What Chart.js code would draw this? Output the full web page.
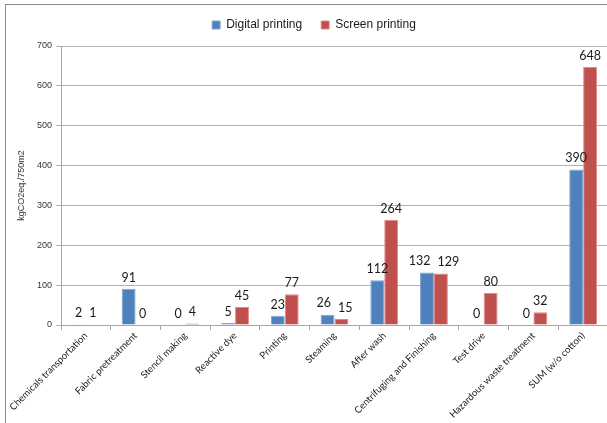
<!DOCTYPE html>
<html>
<head>
<meta charset="utf-8">
<script src="https://cdn.jsdelivr.net/npm/chart.js@4/dist/chart.umd.min.js"></script>
<style>
  html, body { margin: 0; padding: 0; background: #fff; overflow: hidden; width: 607px; height: 423px; }
  #frame { position: absolute; left: 5px; top: 4px; width: 700px; height: 500px; border-top: 1px solid #8c8c8c; border-left: 1px solid #8c8c8c; }
  #wrap { position: absolute; left: 0; top: 0; width: 602px; height: 418px; }
</style>
</head>
<body>
<div id="frame"><div id="wrap"><canvas id="c"></canvas></div></div>
<script>
const categories = ["Chemicals transportation", "Fabric pretreatment", "Stencil making", "Reactive dye", "Printing", "Steaming", "After wash", "Centrifuging and Finishing", "Test drive", "Hazardous waste treatment", "SUM (w/o cotton)"];
const digitalPrinting = [2, 91, 0, 5, 23, 26, 112, 132, 0, 0, 390];
const screenPrinting = [1, 0, 4, 45, 77, 15, 264, 129, 80, 32, 648];
const seriesNames = ["Digital printing", "Screen printing"];
const yTicks = [0, 100, 200, 300, 400, 500, 600, 700];
const yTitle = "kgCO2eq./750m2";

const valueLabels = {
  id: 'valueLabels',
  afterDatasetsDraw(chart) {
    const ctx = chart.ctx;
    ctx.save();
    ctx.font = '12.5px Lato, "Open Sans", sans-serif';
    ctx.fillStyle = '#1a1a1a';
    ctx.textAlign = 'center';
    ctx.textBaseline = 'bottom';
    const m0 = chart.getDatasetMeta(0), m1 = chart.getDatasetMeta(1);
    const d0 = chart.data.datasets[0].data, d1 = chart.data.datasets[1].data;
    m0.data.forEach((b0, j) => {
      const b1 = m1.data[j];
      const t0 = String(d0[j]), t1 = String(d1[j]);
      let x0 = b0.x, x1 = b1.x;
      const y0 = b0.y - 5, y1 = b1.y - 5;
      const w0 = ctx.measureText(t0).width, w1 = ctx.measureText(t1).width;
      if (Math.abs(y0 - y1) < 12) {
        const gap = (x1 - w1 / 2) - (x0 + w0 / 2);
        if (gap < 7) { const s = (7 - gap) / 2; x0 -= s; x1 += s; }
      }
      ctx.fillText(t0, x0, y0);
      ctx.fillText(t1, x1, y1);
    });
    ctx.restore();
  }
};
const legendShift = {
  id: 'legendShift',
  afterLayout(chart) {
    const l = chart.legend;
    if (l) { l.left += 7; l.right += 7; l.top -= 5; l.bottom -= 5; }
  }
};

new Chart(document.getElementById('c'), {
  type: 'bar',
  data: {
    labels: categories,
    datasets: [
      { label: seriesNames[0], data: digitalPrinting, backgroundColor: '#4f81bd', borderColor: '#7ea6d6', borderWidth: 1, categoryPercentage: 0.56, barPercentage: 1.0 },
      { label: seriesNames[1], data: screenPrinting, backgroundColor: '#c0504d', borderColor: '#de8a88', borderWidth: 1, categoryPercentage: 0.56, barPercentage: 1.0 }
    ]
  },
  options: {
    responsive: true,
    maintainAspectRatio: false,
    animation: false,
    layout: { padding: { top: 0, left: 0, right: 0, bottom: 0 } },
    plugins: {
      legend: {
        position: 'top',
        labels: {
          boxWidth: 8, boxHeight: 8, padding: 19,
          color: '#1a1a1a',
          font: { family: '"Liberation Sans", Arial, sans-serif', size: 12 }
        }
      },
      tooltip: { enabled: false }
    },
    scales: {
      x: {
        grid: { display: true, drawOnChartArea: false, offset: true, tickLength: 5, color: '#a6a6a6' },
        border: { display: true, color: '#a6a6a6' },
        ticks: {
          maxRotation: 45, minRotation: 45, autoSkip: false, padding: 0,
          color: '#1a1a1a',
          font: { family: 'Lato, "Open Sans", sans-serif', size: 9.6 }
        },
        afterFit(s) { s.height = 98; }
      },
      y: {
        min: 0, max: 700,
        afterBuildTicks(s) { s.ticks = yTicks.map(v => ({ value: v })); },
        grid: { color: '#b3b3b3', tickLength: 5 },
        border: { display: true, color: '#a6a6a6' },
        ticks: {
          padding: 4,
          color: '#333',
          font: { family: '"Liberation Sans", Arial, sans-serif', size: 9 }
        },
        title: {
          display: true, text: yTitle, color: '#333', padding: { top: 10, bottom: 4 },
          font: { family: '"Liberation Sans", Arial, sans-serif', size: 9 }
        },
        afterFit(s) { s.width = 55; }
      }
    }
  },
  plugins: [valueLabels, legendShift]
});
</script>
</body>
</html>
